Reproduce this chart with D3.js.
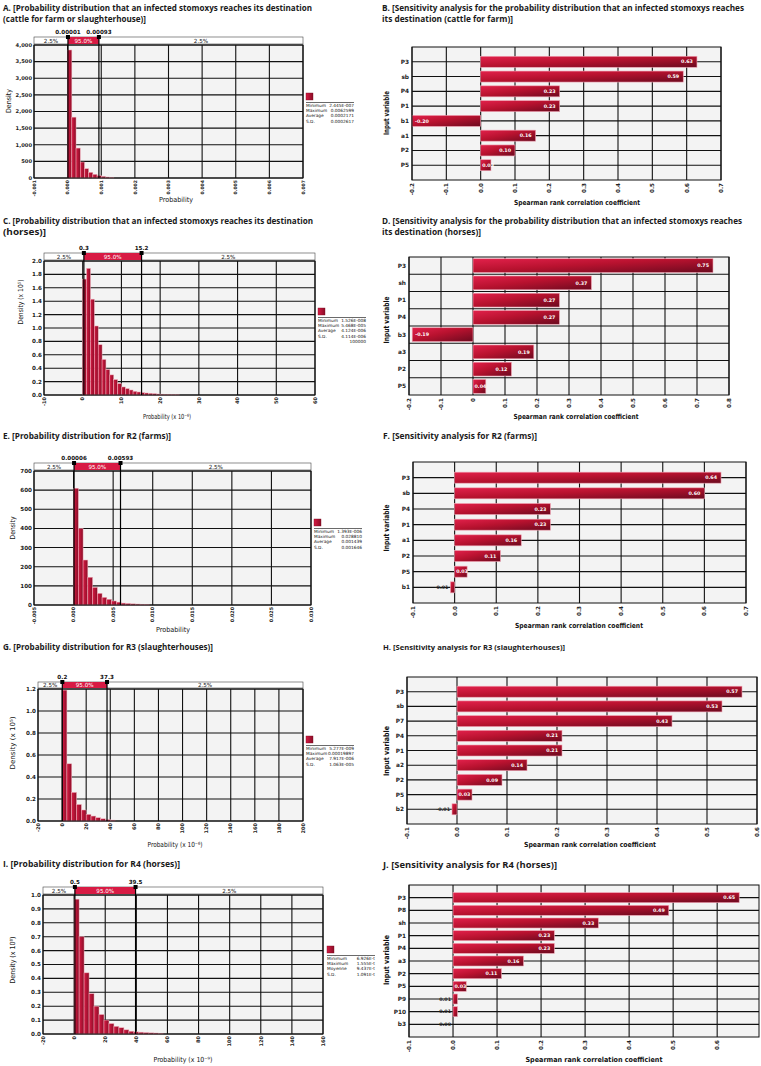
<!DOCTYPE html>
<html><head><meta charset="utf-8">
<script src="https://cdn.jsdelivr.net/npm/d3@7"></script>
<style>body{margin:0;background:#fff}svg{display:block}</style>
</head><body>
<svg id="c" width="761" height="1066"></svg>
<script>
// ===================== DATA =====================
// Panel A
const A_binWidth = 0.000125;
const A_density = [3850,1830,900,480,280,170,110,70,50,30,20];
const A_xTicks = [-0.001,0,0.001,0.002,0.003,0.004,0.005,0.006,0.007];
const A_xTickLabels = ["-0.001","0.000","0.001","0.002","0.003","0.004","0.005","0.006","0.007"];
const A_yTicks = [0,500,1000,1500,2000,2500,3000,3500,4000];
const A_yTickLabels = ["0","500","1,000","1,500","2,000","2,500","3,000","3,500","4,000"];
const A_pct = [0.00001,0.00093];
const A_pctLabels = ["0.00001","0.00093"];
const A_stats = [["Minimum","2.445E-007"],["Maximum","0.0062599"],["Average","0.0002171"],["S.D.","0.0002617"]];
// Panel B
const B_vars = ["P3","sb","P4","P1","b1","a1","P2","P5"];
const B_coef = [0.63,0.59,0.23,0.23,-0.20,0.16,0.10,0.03];
const B_labels = ["0.63","0.59","0.23","0.23","-0.20","0.16","0.10","0.03"];
const B_xTicks = [-0.2,-0.1,0,0.1,0.2,0.3,0.4,0.5,0.6,0.7];
const B_xTickLabels = ["-0.2","-0.1","0.0","0.1","0.2","0.3","0.4","0.5","0.6","0.7"];
// Panel C
const C_binWidth = 1;
const C_density = [1.73,1.89,1.43,1.03,0.75,0.53,0.38,0.30,0.23,0.17,0.12,0.095,0.075,0.055,0.045,0.035,0.03,0.025,0.02,0.015,0.012,0.01,0.008,0.006,0.005];
const C_xTicks = [-10,0,10,20,30,40,50,60];
const C_xTickLabels = ["-10","0","10","20","30","40","50","60"];
const C_yTicks = [0,0.2,0.4,0.6,0.8,1.0,1.2,1.4,1.6,1.8,2.0];
const C_yTickLabels = ["0.0","0.2","0.4","0.6","0.8","1.0","1.2","1.4","1.6","1.8","2.0"];
const C_pct = [0.3,15.2];
const C_pctLabels = ["0.3","15.2"];
const C_stats = [["Minimum","1.526E-008"],["Maximum","5.468E-005"],["Average","4.124E-006"],["S.D.","4.114E-006"],["","100000"]];
// Panel D
const D_vars = ["P3","sh","P1","P4","b3","a3","P2","P5"];
const D_coef = [0.75,0.37,0.27,0.27,-0.19,0.19,0.12,0.04];
const D_labels = ["0.75","0.37","0.27","0.27","-0.19","0.19","0.12","0.04"];
const D_xTicks = [-0.2,-0.1,0,0.1,0.2,0.3,0.4,0.5,0.6,0.7,0.8];
const D_xTickLabels = ["-0.2","-0.1","0","0.1","0.2","0.3","0.4","0.5","0.6","0.7","0.8"];
// Panel E
const E_binWidth = 0.0006;
const E_density = [610,400,235,145,92,61,40,30,21,15,10,8,6,5,4,3];
const E_xTicks = [-0.005,0,0.005,0.010,0.015,0.020,0.025,0.030];
const E_xTickLabels = ["-0.005","0.000","0.005","0.010","0.015","0.020","0.025","0.030"];
const E_yTicks = [0,100,200,300,400,500,600,700];
const E_yTickLabels = ["0","100","200","300","400","500","600","700"];
const E_pct = [0.00006,0.00593];
const E_pctLabels = ["0.00006","0.00593"];
const E_stats = [["Minimum","1.393E-006"],["Maximum","0.028810"],["Average","0.001439"],["S.D.","0.001646"]];
// Panel F
const F_vars = ["P3","sb","P4","P1","a1","P2","P5","b1"];
const F_coef = [0.64,0.60,0.23,0.23,0.16,0.11,0.03,-0.01];
const F_labels = ["0.64","0.60","0.23","0.23","0.16","0.11","0.03","-0.01"];
const F_xTicks = [-0.1,0,0.1,0.2,0.3,0.4,0.5,0.6,0.7];
const F_xTickLabels = ["-0.1","0.0","0.1","0.2","0.3","0.4","0.5","0.6","0.7"];
// Panel G
const G_binWidth = 4;
const G_density = [1.19,0.52,0.26,0.15,0.10,0.06,0.045,0.03,0.02,0.012,0.008];
const G_xTicks = [-20,0,20,40,60,80,100,120,140,160,180,200];
const G_xTickLabels = ["-20","0","20","40","60","80","100","120","140","160","180","200"];
const G_yTicks = [0,0.2,0.4,0.6,0.8,1.0,1.2];
const G_yTickLabels = ["0.0","0.2","0.4","0.6","0.8","1.0","1.2"];
const G_pct = [0.2,37.3];
const G_pctLabels = ["0.2","37.3"];
const G_stats = [["Minimum","5.277E-009"],["Maximum","0.00019897"],["Average","7.917E-006"],["S.D.","1.063E-005"]];
// Panel H
const H_vars = ["P3","sb","P7","P4","P1","a2","P2","P5","b2"];
const H_coef = [0.57,0.53,0.43,0.21,0.21,0.14,0.09,0.03,-0.01];
const H_labels = ["0.57","0.53","0.43","0.21","0.21","0.14","0.09","0.03","-0.01"];
const H_xTicks = [-0.1,0,0.1,0.2,0.3,0.4,0.5,0.6];
const H_xTickLabels = ["-0.1","0.0","0.1","0.2","0.3","0.4","0.5","0.6"];
// Panel I
const I_binWidth = 3.2;
const I_density = [0.97,0.70,0.44,0.29,0.20,0.14,0.10,0.075,0.055,0.045,0.03,0.02,0.015,0.013,0.01,0.008,0.007,0.005];
const I_xTicks = [-20,0,20,40,60,80,100,120,140,160];
const I_xTickLabels = ["-20","0","20","40","60","80","100","120","140","160"];
const I_yTicks = [0,0.1,0.2,0.3,0.4,0.5,0.6,0.7,0.8,0.9,1.0];
const I_yTickLabels = ["0.0","0.1","0.2","0.3","0.4","0.5","0.6","0.7","0.8","0.9","1.0"];
const I_pct = [0.5,39.5];
const I_pctLabels = ["0.5","39.5"];
const I_stats = [["Minimum","6.926E-t"],["Maximum","1.555E-t"],["Moyenne","9.437E-t"],["S.D.","1.091E-t"]];
// Panel J
const J_vars = ["P3","P8","sh","P1","P4","a3","P2","P5","P9","P10","b3"];
const J_coef = [0.65,0.49,0.33,0.23,0.23,0.16,0.11,0.03,0.01,0.01,0.00];
const J_labels = ["0.65","0.49","0.33","0.23","0.23","0.16","0.11","0.03","0.01","0.01","0.00"];
const J_xTicks = [-0.1,0,0.1,0.2,0.3,0.4,0.5,0.6];
const J_xTickLabels = ["-0.1","0.0","0.1","0.2","0.3","0.4","0.5","0.6"];

// ===================== DRAWING =====================
const svg = d3.select("#c");
const FONT = "'DejaVu Sans', Verdana, sans-serif";
const defs = svg.append("defs");
const hg = defs.append("linearGradient").attr("id","hGrad").attr("x1",0).attr("y1",0).attr("x2",1).attr("y2",0);
hg.append("stop").attr("offset","0%").attr("stop-color","#d81b44");
hg.append("stop").attr("offset","100%").attr("stop-color","#8a0d27");
const bg = defs.append("linearGradient").attr("id","bGrad").attr("x1",0).attr("y1",0).attr("x2",1).attr("y2",1);
bg.append("stop").attr("offset","0%").attr("stop-color","#e2214b");
bg.append("stop").attr("offset","45%").attr("stop-color","#b8122f");
bg.append("stop").attr("offset","100%").attr("stop-color","#6c0a1f");

function title(lines, x, ys, ws){
  lines.forEach((t,i)=>{
    const base = 9.4;
    const el = svg.append("text").attr("x",x).attr("y",ys[i])
      .attr("font-family","'Liberation Sans Narrow', 'Open Sans', sans-serif")
      .attr("font-size",base).attr("font-weight","bold").attr("fill","#1a1a1a").text(t);
    const nat = el.node().getComputedTextLength();
    if(nat > ws[i]*1.02) el.attr("font-size", base*ws[i]/nat);
    el.attr("textLength",ws[i]).attr("lengthAdjust","spacingAndGlyphs");
  });
}
function rotLabel(g, text, cx, cy, len, size, weight){
  g.append("text").attr("transform",`translate(${cx},${cy}) rotate(-90)`).attr("text-anchor","middle")
    .attr("dy","0.35em").attr("font-family",FONT).attr("font-size",size).attr("font-weight",weight)
    .attr("textLength",len).attr("lengthAdjust","spacingAndGlyphs").attr("fill","#111").text(text);
}
function hLabel(g, text, cx, y, len, size, weight){
  g.append("text").attr("x",cx-len/2).attr("y",y).attr("font-family",FONT).attr("font-size",size)
    .attr("font-weight",weight).attr("textLength",len).attr("lengthAdjust","spacingAndGlyphs").attr("fill","#111").text(text);
}
function xTickText(g, x, ticks, labels, yBase, size){
  g.selectAll(null).data(ticks).join("text")
    .attr("transform",d=>`translate(${x(d)},${yBase}) rotate(-90)`)
    .attr("text-anchor","end").attr("dy","0.35em")
    .attr("font-family",FONT).attr("font-size",size).attr("font-weight","bold").attr("fill","#222")
    .text((d,i)=>labels[i]);
}

function histPanel(o){
  const g = svg.append("g");
  const x = d3.scaleLinear().domain(o.xDomain).range([o.x0,o.x1]);
  const y = d3.scaleLinear().domain(o.yDomain).range([o.y1,o.y0]);
  g.append("rect").attr("x",o.x0).attr("y",o.y0).attr("width",o.x1-o.x0).attr("height",o.y1-o.y0).attr("fill","#f3f3f3");
  g.selectAll(null).data(o.xTicks).join("line")
    .attr("x1",d=>x(d)).attr("x2",d=>x(d)).attr("y1",o.y0).attr("y2",o.y1).attr("stroke","#111").attr("stroke-width",1.1);
  g.selectAll(null).data(o.yTicks).join("line")
    .attr("y1",d=>y(d)).attr("y2",d=>y(d)).attr("x1",o.x0).attr("x2",o.x1).attr("stroke","#111").attr("stroke-width",1.1);
  g.selectAll(null).data(o.density).join("rect")
    .attr("x",(d,i)=>x(i*o.bw)).attr("width",(d,i)=>x((i+1)*o.bw)-x(i*o.bw))
    .attr("y",d=>y(d)).attr("height",d=>y(0)-y(d))
    .attr("fill","url(#hGrad)").attr("stroke","#f2aebb").attr("stroke-width",0.5);
  g.append("rect").attr("x",o.x0).attr("y",o.y0).attr("width",o.x1-o.x0).attr("height",o.y1-o.y0)
    .attr("fill","none").attr("stroke","#111").attr("stroke-width",1);
  // percentile band
  const bt=o.bandTop, bh=o.y0-o.bandTop-1;
  g.append("rect").attr("x",o.x0).attr("y",bt).attr("width",o.x1-o.x0).attr("height",bh)
    .attr("fill","#fff").attr("stroke","#444").attr("stroke-width",0.6);
  const p1=x(o.pct[0]), p2=x(o.pct[1]);
  g.append("rect").attr("x",p1).attr("y",bt).attr("width",p2-p1).attr("height",bh).attr("fill","#d81b44");
  const bandTxt = [[ (o.x0+p1)/2,"2.5%","#111"],[(p1+p2)/2,"95.0%","#fff"],[(p2+o.x1)/2,"2.5%","#111"]];
  g.selectAll(null).data(bandTxt).join("text").attr("x",d=>d[0]).attr("y",bt+bh/2).attr("dy","0.36em")
    .attr("text-anchor","middle").attr("font-family",FONT).attr("font-size",5.6).attr("fill",d=>d[2]).text(d=>d[1]);
  g.selectAll(null).data(o.pct).join("line").attr("x1",d=>x(d)).attr("x2",d=>x(d)).attr("y1",bt).attr("y2",o.y1)
    .attr("stroke","#000").attr("stroke-width",1.2);
  g.selectAll(null).data(o.pct).join("rect").attr("x",d=>x(d)-2).attr("y",bt-2).attr("width",4).attr("height",4).attr("fill","#000");
  g.selectAll(null).data(o.pct).join("text").attr("x",d=>x(d)).attr("y",bt-3).attr("text-anchor","middle")
    .attr("font-family",FONT).attr("font-size",5.6).attr("font-weight","bold").attr("fill","#111").text((d,i)=>o.pctLabels[i]);
  // ticks
  xTickText(g, x, o.xTicks, o.xLabels, o.y1+2, o.xTickSize||5);
  g.selectAll(null).data(o.yTicks).join("text").attr("x",o.x0-2).attr("y",d=>y(d)).attr("dy","0.35em")
    .attr("text-anchor","end").attr("font-family",FONT).attr("font-size",o.yTickSize||5.6).attr("font-weight","bold").attr("fill","#222")
    .text((d,i)=>o.yLabels[i]);
  rotLabel(g, o.yTitle, o.yTitleX, o.yTitleY, o.yTitleLen, 7, "normal");
  hLabel(g, o.xTitle, o.xTitleX, o.xTitleY, o.xTitleLen, 7, "normal");
  // legend
  const lx=o.legend[0], ly=o.legend[1];
  g.append("rect").attr("x",lx).attr("y",ly).attr("width",7).attr("height",7).attr("fill","url(#hGrad)").attr("stroke","#7a0a20").attr("stroke-width",0.4);
  g.append("line").attr("x1",lx).attr("x2",lx+48).attr("y1",ly+9.5).attr("y2",ly+9.5).attr("stroke","#444").attr("stroke-width",0.8);
  o.stats.forEach((s,i)=>{
    const yy = ly+14+i*5.2;
    g.append("text").attr("x",lx).attr("y",yy).attr("font-family",FONT).attr("font-size",4.3).attr("fill","#111").text(s[0]);
    g.append("text").attr("x",lx+48).attr("y",yy).attr("text-anchor","end").attr("font-family",FONT).attr("font-size",4.3).attr("fill","#111").text(s[1]);
  });
}

function sensPanel(o){
  const g = svg.append("g");
  const x = d3.scaleLinear().domain(o.xDomain).range([o.x0,o.x1]);
  let cy, gridYs, bh;
  if(o.mode==="band"){
    const y = d3.scaleBand().domain(o.vars).range([o.y0,o.y1]).paddingInner(0.2).paddingOuter(0.1);
    cy = d=>y(d)+y.bandwidth()/2;
    gridYs = o.vars.slice(1).map(d=>y(d)-y.step()*0.1);
    bh = y.bandwidth();
  } else {
    const y = d3.scalePoint().domain(o.vars).range([o.y0,o.y1]).padding(1);
    cy = d=>y(d);
    gridYs = o.vars.map(d=>y(d));
    bh = o.barH;
  }
  g.append("rect").attr("x",o.x0).attr("y",o.y0).attr("width",o.x1-o.x0).attr("height",o.y1-o.y0).attr("fill","#f3f3f3");
  g.selectAll(null).data(o.xTicks).join("line")
    .attr("x1",d=>x(d)).attr("x2",d=>x(d)).attr("y1",o.y0).attr("y2",o.y1).attr("stroke","#111").attr("stroke-width",1.1);
  g.selectAll(null).data(gridYs).join("line")
    .attr("y1",d=>d).attr("y2",d=>d).attr("x1",o.x0).attr("x2",o.x1).attr("stroke","#111").attr("stroke-width",1.1);
  const data = o.vars.map((v,i)=>({v, c:o.coef[i], lab:o.labels[i]}));
  g.selectAll(null).data(data).join("rect")
    .attr("x",d=>x(Math.min(0,d.c))).attr("width",d=>Math.abs(x(d.c)-x(0)))
    .attr("y",d=>cy(d.v)-bh/2).attr("height",bh)
    .attr("fill","url(#bGrad)").attr("stroke","#f0a3b3").attr("stroke-width",0.6);
  g.append("rect").attr("x",o.x0).attr("y",o.y0).attr("width",o.x1-o.x0).attr("height",o.y1-o.y0)
    .attr("fill","none").attr("stroke","#111").attr("stroke-width",1);
  // value labels
  g.selectAll(null).data(data).join("text")
    .attr("x",d=>{
      if(Math.abs(d.c)<0.02) return x(Math.min(0,d.c))-2;
      if(d.c<0) return x(d.c)+3;
      if(d.c<0.06) return x(0)+1.5;
      return x(d.c)-4;
    })
    .attr("text-anchor",d=>{
      if(Math.abs(d.c)<0.02) return "end";
      if(d.c<0) return "start";
      if(d.c<0.06) return "start";
      return "end";
    })
    .attr("y",d=>cy(d.v)).attr("dy","0.35em")
    .attr("font-family",FONT).attr("font-size",4.8).attr("font-weight","bold")
    .attr("fill",d=>Math.abs(d.c)<0.02?"#222":"#fff").text(d=>d.lab);
  // category labels
  g.selectAll(null).data(o.vars).join("text").attr("x",o.x0-3).attr("y",d=>cy(d)).attr("dy","0.35em")
    .attr("text-anchor","end").attr("font-family",FONT).attr("font-size",5.8).attr("font-weight","bold").attr("fill","#222").text(d=>d);
  xTickText(g, x, o.xTicks, o.xLabels, o.y1+3, 5.6);
  rotLabel(g, "Input variable", 386, o.ivY, o.ivLen, 7.5, "bold");
  hLabel(g, "Spearman rank correlation coefficient", o.xtX, o.xtY, o.xtLen, 7, "bold");
}

// ----- Titles -----
title(["A. [Probability distribution that an infected stomoxys reaches its destination","(cattle for farm or slaughterhouse)]"],3,[10.5,21.5],[309,143]);
title(["B. [Sensitivity analysis for the probability distribution that an infected stomoxys reaches","its destination (cattle for farm)]"],382,[10.5,21.5],[362,131]);
title(["C. [Probability distribution that an infected stomoxys reaches its destination","(horses)]"],3,[223.5,234.5],[310,43]);
title(["D. [Sensitivity analysis for the probability distribution that an infected stomoxys reaches","its destination (horses)]"],382,[223.5,235],[360,99]);
title(["E. [Probability distribution for R2 (farms)]"],3,[439],[168]);
title(["F. [Sensitivity analysis for R2 (farms)]"],383,[439],[154]);
title(["G. [Probability distribution for R3 (slaughterhouses)]"],3,[650],[210]);
title(["H. [Sensitivity analysis for R3 (slaughterhouses)]"],383,[650],[182]);
title(["I. [Probability distribution for R4 (horses)]"],3,[867],[177]);
title(["J. [Sensitivity analysis for R4 (horses)]"],383,[868],[174]);

// ----- Histograms -----
histPanel({x0:34,x1:303,y0:45,y1:178,bandTop:37,xDomain:[-0.001,0.007],yDomain:[0,4000],
  xTicks:A_xTicks,xLabels:A_xTickLabels,yTicks:A_yTicks,yLabels:A_yTickLabels,xTickSize:4.6,yTickSize:5.2,
  bw:A_binWidth,density:A_density,pct:A_pct,pctLabels:A_pctLabels,
  yTitle:"Density",yTitleX:9,yTitleY:101,yTitleLen:24,xTitle:"Probability",xTitleX:176,xTitleY:202,xTitleLen:34,
  legend:[306,93],stats:A_stats});
histPanel({x0:44,x1:315,y0:261,y1:395,bandTop:253,xDomain:[-10,60],yDomain:[0,2],
  xTicks:C_xTicks,xLabels:C_xTickLabels,yTicks:C_yTicks,yLabels:C_yTickLabels,
  bw:C_binWidth,density:C_density,pct:C_pct,pctLabels:C_pctLabels,
  yTitle:"Density (x 10⁵)",yTitleX:21,yTitleY:302,yTitleLen:45,xTitle:"Probability (x 10⁻⁶)",xTitleX:167,xTitleY:419,xTitleLen:48,
  legend:[318,308],stats:C_stats});
histPanel({x0:34,x1:311,y0:471,y1:605,bandTop:463,xDomain:[-0.005,0.030],yDomain:[0,700],
  xTicks:E_xTicks,xLabels:E_xTickLabels,yTicks:E_yTicks,yLabels:E_yTickLabels,xTickSize:4.8,
  bw:E_binWidth,density:E_density,pct:E_pct,pctLabels:E_pctLabels,
  yTitle:"Density",yTitleX:13,yTitleY:528,yTitleLen:23,xTitle:"Probability",xTitleX:173,xTitleY:632,xTitleLen:34,
  legend:[314,519],stats:E_stats});
histPanel({x0:38,x1:303,y0:689,y1:821,bandTop:682,xDomain:[-20,200],yDomain:[0,1.2],
  xTicks:G_xTicks,xLabels:G_xTickLabels,yTicks:G_yTicks,yLabels:G_yTickLabels,
  bw:G_binWidth,density:G_density,pct:G_pct,pctLabels:G_pctLabels,
  yTitle:"Density (x 10⁵)",yTitleX:13,yTitleY:743,yTitleLen:53,xTitle:"Probability (x 10⁻⁶)",xTitleX:175,xTitleY:847,xTitleLen:55,
  legend:[306,736],stats:G_stats});
histPanel({x0:43,x1:323,y0:895,y1:1034,bandTop:887,xDomain:[-20,160],yDomain:[0,1],
  xTicks:I_xTicks,xLabels:I_xTickLabels,yTicks:I_yTicks,yLabels:I_yTickLabels,
  bw:I_binWidth,density:I_density,pct:I_pct,pctLabels:I_pctLabels,
  yTitle:"Density (x 10⁸)",yTitleX:13,yTitleY:960,yTitleLen:47,xTitle:"Probability (x 10⁻⁹)",xTitleX:183,xTitleY:1062,xTitleLen:59,
  legend:[327,946],stats:I_stats});

// ----- Sensitivity -----
sensPanel({x0:412,x1:721,y0:47,y1:180,xDomain:[-0.2,0.7],xTicks:B_xTicks,xLabels:B_xTickLabels,
  vars:B_vars,coef:B_coef,labels:B_labels,mode:"point",barH:11,ivY:113,ivLen:44,xtX:577,xtY:205,xtLen:126});
sensPanel({x0:409,x1:729,y0:257,y1:395,xDomain:[-0.2,0.8],xTicks:D_xTicks,xLabels:D_xTickLabels,
  vars:D_vars,coef:D_coef,labels:D_labels,mode:"band",ivY:320,ivLen:47,xtX:576,xtY:419,xtLen:125});
sensPanel({x0:413,x1:746,y0:462,y1:603,xDomain:[-0.1,0.7],xTicks:F_xTicks,xLabels:F_xTickLabels,
  vars:F_vars,coef:F_coef,labels:F_labels,mode:"point",barH:11,ivY:528,ivLen:47,xtX:579,xtY:628,xtLen:128});
sensPanel({x0:407,x1:757,y0:677,y1:824,xDomain:[-0.1,0.6],xTicks:H_xTicks,xLabels:H_xTickLabels,
  vars:H_vars,coef:H_coef,labels:H_labels,mode:"point",barH:11,ivY:751,ivLen:50,xtX:590,xtY:847,xtLen:132});
sensPanel({x0:409,x1:759,y0:885,y1:1037,xDomain:[-0.1,0.695],xTicks:J_xTicks,xLabels:J_xTickLabels,
  vars:J_vars,coef:J_coef,labels:J_labels,mode:"point",barH:10,ivY:960,ivLen:50,xtX:594,xtY:1062,xtLen:137});
</script>
</body></html>
